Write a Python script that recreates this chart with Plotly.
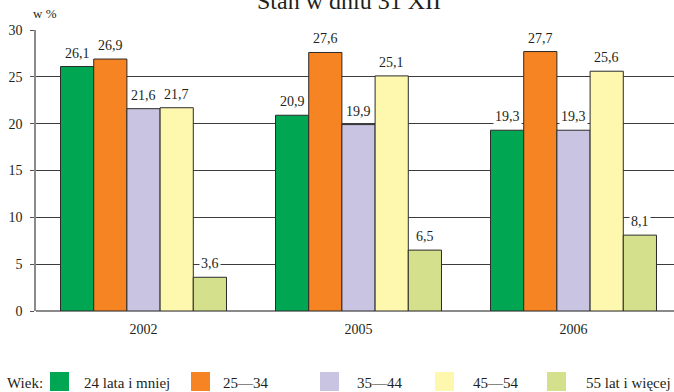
import plotly.graph_objects as go

years = ["2002", "2005", "2006"]
age_groups = ["24 lata i mniej", "25—34", "35—44", "45—54", "55 lat i więcej"]
v_24_less = [26.1, 20.9, 19.3]
v_25_34 = [26.9, 27.6, 27.7]
v_35_44 = [21.6, 19.9, 19.3]
v_45_54 = [21.7, 25.1, 25.6]
v_55_more = [3.6, 6.5, 8.1]
y_ticks = [0, 5, 10, 15, 20, 25, 30]

series = [v_24_less, v_25_34, v_35_44, v_45_54, v_55_more]
colors = ["#00A651", "#F68422", "#C8C4E1", "#FEF8AE", "#D4E08C"]

FONT = "Liberation Serif"
W, H = 674, 392
ML, MT, MB = 36, 30, 81
PLOT_W = W - ML
PLOT_H = H - MT - MB
BARGAP = 0.228
CAT_PX = 215.0
x_max = -0.5 + PLOT_W / CAT_PX


def fmt(v):
    return f"{v:.1f}".replace(".", ",")


def px_x(px):
    return (px - ML) / PLOT_W


def px_y(py):
    return (H - MB - py) / PLOT_H


fig = go.Figure()
for name, vals, col in zip(age_groups, series, colors):
    fig.add_trace(go.Bar(
        x=list(range(len(years))), y=vals, name=name,
        marker=dict(color=col, line=dict(color="#2b2b2b", width=1)),
        showlegend=False, hoverinfo="skip",
    ))

annotations = []
n = len(series)
bw = (1 - BARGAP) / n
for i, vals in enumerate(series):
    for j, v in enumerate(vals):
        annotations.append(dict(
            x=j + (i - (n - 1) / 2) * bw, y=v, xref="x", yref="y",
            text=fmt(v), showarrow=False, yanchor="bottom", xanchor="center",
            yshift=4, bgcolor="white", borderpad=1,
            font=dict(family=FONT, size=14, color="#231F20"),
        ))

# title and unit
annotations.append(dict(
    x=px_x(349), y=1, xref="paper", yref="paper", yshift=14,
    text="Stan w dniu 31 XII", showarrow=False, xanchor="center", yanchor="bottom",
    font=dict(family=FONT, size=24, color="#231F20"),
))
annotations.append(dict(
    x=px_x(31), y=px_y(14), xref="paper", yref="paper",
    text="w %", showarrow=False, xanchor="left", yanchor="middle",
    font=dict(family=FONT, size=13, color="#231F20"),
))

# manual legend
shapes = []
annotations.append(dict(
    x=px_x(5), y=px_y(383), xref="paper", yref="paper",
    text="Wiek:", showarrow=False, xanchor="left", yanchor="middle",
    font=dict(family=FONT, size=15, color="#231F20"),
))
sq_x = [50, 191, 320, 435, 547]
tx_x = [82, 221, 355, 471, 584]
for name, col, sx, tx in zip(age_groups, colors, sq_x, tx_x):
    shapes.append(dict(
        type="rect", xref="paper", yref="paper",
        x0=px_x(sx), x1=px_x(sx + 19), y0=px_y(391), y1=px_y(372),
        fillcolor=col, line=dict(width=0),
    ))
    annotations.append(dict(
        x=px_x(tx), y=px_y(383), xref="paper", yref="paper",
        text=name, showarrow=False, xanchor="left", yanchor="middle",
        font=dict(family=FONT, size=15, color="#231F20"),
    ))

fig.update_layout(
    width=W, height=H,
    margin=dict(l=ML, r=0, t=MT, b=MB),
    paper_bgcolor="white", plot_bgcolor="white",
    barmode="group", bargap=BARGAP, bargroupgap=0,
    font=dict(family=FONT, size=14, color="#231F20"),
    annotations=annotations, shapes=shapes,
    xaxis=dict(
        range=[-0.5, x_max], tickmode="array",
        tickvals=list(range(len(years))), ticktext=years,
        showgrid=False, zeroline=False, showline=False, ticks="",
        tickfont=dict(family=FONT, size=14, color="#231F20"),
        ticklabelstandoff=8,
    ),
    yaxis=dict(
        range=[0, 30], tickmode="array", tickvals=y_ticks,
        ticktext=[str(t) for t in y_ticks],
        showgrid=True, gridcolor="#3c3c3c", gridwidth=1,
        zeroline=True, zerolinecolor="#8a8a8a", zerolinewidth=1.5,
        showline=True, linecolor="#8a8a8a", linewidth=1.5,
        ticks="outside", ticklen=4, tickcolor="#555555",
        tickfont=dict(family=FONT, size=14, color="#231F20"),
        ticklabelstandoff=5,
    ),
)

fig.write_html(
    "out.html",
    config={"displayModeBar": False},
    post_script="document.body.style.margin='0';document.body.style.padding='0';",
)
